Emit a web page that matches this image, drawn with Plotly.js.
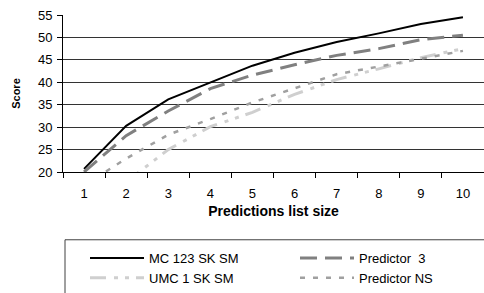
<!DOCTYPE html>
<html>
<head>
<meta charset="utf-8">
<script src="https://cdn.plot.ly/plotly-3.0.1.min.js"></script>
<style>html,body{margin:0;padding:0;background:#fff;}#chart{width:484px;height:293px;}</style>
</head>
<body>
<div id="chart"></div>
<script>
const categories = ['1','2','3','4','5','6','7','8','9','10'];
const mc123 = [20.7, 30.3, 36.2, 40.0, 43.7, 46.6, 49.0, 50.9, 53.0, 54.5];
const predictor3 = [20.0, 28.1, 33.6, 38.6, 41.6, 43.9, 46.0, 47.5, 49.5, 50.5];
const umc1 = [null, 17.8, 25.0, 30.1, 33.3, 37.3, 40.6, 43.0, 45.5, 47.5];
const predictorNS = [17.0, 23.0, 28.3, 31.8, 35.5, 38.6, 41.8, 43.5, 45.3, 47.0];
const yTicks = [20, 25, 30, 35, 40, 45, 50, 55];

const W = 484, H = 293;
const L = 63, R = 0, T = 15, B = 117;
const pw = W - L - R, ph = H - T - B;
const px = v => (v - L) / pw;      // pixel x -> paper x
const py = v => (H - B - v) / ph;  // pixel y -> paper y

const font = 'Arial, "Liberation Sans", sans-serif';

const traces = [
  {name: 'MC 123 SK SM', y: mc123, line: {color: '#000000', width: 2}, legend: 'legend'},
  {name: 'Predictor  3', y: predictor3, line: {color: '#808080', width: 3, dash: '17px,8px'}, legend: 'legend2'},
  {name: 'UMC 1 SK SM', y: umc1, line: {color: '#cfcfcf', width: 3, dash: '16px,8px,4px,7px,4px,7px'}, legend: 'legend'},
  {name: 'Predictor NS', y: predictorNS, line: {color: '#a0a0a0', width: 2.5, dash: '5px,8px'}, legend: 'legend2'}
].map(t => Object.assign({x: categories, type: 'scatter', mode: 'lines', connectgaps: false, hoverinfo: 'skip'}, t));

const legendCommon = {
  orientation: 'v', bgcolor: 'rgba(0,0,0,0)', borderwidth: 0,
  font: {family: font, size: 13, color: '#000'},
  xanchor: 'left', yanchor: 'top', itemwidth: 54, tracegroupgap: 4,
  traceorder: 'normal', itemclick: false
};

const layout = {
  width: W, height: H,
  margin: {l: L, r: R, t: T, b: B, pad: 0},
  paper_bgcolor: '#fff', plot_bgcolor: '#fff',
  font: {family: font, size: 13, color: '#000'},
  showlegend: true,
  xaxis: {
    type: 'category', range: [-0.5, 9.5], tickson: 'boundaries',
    ticks: 'outside', ticklen: 5, tickcolor: '#000', tickwidth: 1,
    showgrid: false, showline: true, linecolor: '#000', linewidth: 1,
    zeroline: false, tickfont: {size: 13}, fixedrange: true, ticklabelstandoff: 9,
    title: {text: '<b>Predictions list size</b>', font: {size: 14}, standoff: 6}
  },
  yaxis: {
    range: [20, 55], tickvals: yTicks, ticktext: yTicks.map(String),
    ticks: 'outside', ticklen: 5, tickcolor: '#000', tickwidth: 1,
    showgrid: true, gridcolor: '#333', gridwidth: 1,
    showline: true, linecolor: '#000', linewidth: 1, zeroline: false,
    tickfont: {size: 13}, fixedrange: true, ticklabelstandoff: 2,
    title: {text: '<b>Score</b>', font: {size: 11}, standoff: 15}
  },
  legend: Object.assign({x: px(85), y: py(249)}, legendCommon),
  legend2: Object.assign({x: px(295), y: py(249)}, legendCommon),
  shapes: [
    {type: 'rect', xref: 'paper', yref: 'paper', x0: px(65), x1: px(500), y0: py(245.5), y1: py(310),
     line: {color: '#404040', width: 1}, fillcolor: 'rgba(0,0,0,0)', layer: 'below'}
  ]
};

Plotly.newPlot('chart', traces, layout, {displayModeBar: false, staticPlot: true});
</script>
</body>
</html>
